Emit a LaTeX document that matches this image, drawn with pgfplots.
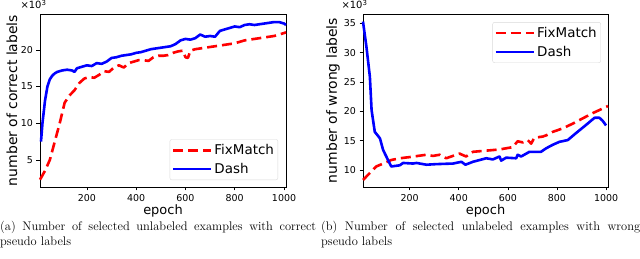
\documentclass[border=0pt]{standalone}
\usepackage{pgfplots}
\pgfplotsset{compat=1.18}
\usepackage{fontspec}
\newfontfamily\dejavu{DejaVu Sans}
\begin{document}
\begin{tikzpicture}
\useasboundingbox (0bp,0bp) rectangle (640bp,259bp);
\pgfplotsset{
  myax/.style={
    scale only axis, height=173bp, clip=false,
    xmin=10, xmax=1008,
    xtick={200,400,600,800,1000},
    tick align=outside, major tick length=3.5bp,
    xtick pos=bottom, ytick pos=left,
    tick style={black, line width=0.6pt},
    axis line style={line width=0.8pt},
    /pgf/number format/assume math mode=true,
    /pgf/number format/set thousands separator={},
    ticklabel style={font=\dejavu\fontsize{9.5}{10}\selectfont},
    xlabel=epoch,
    xlabel style={font=\dejavu\fontsize{13}{14}\selectfont, at={(axis description cs:0.5,-0.139)}, anchor=center},
    legend cell align=left,
    legend style={draw=black!15, rounded corners=2bp, font=\dejavu\fontsize{13.5}{15}\selectfont, inner xsep=2bp, inner ysep=3bp, row sep=3bp},
    legend image code/.code={\draw[##1] (0bp,0bp) -- (28bp,0bp); \path (0bp,0bp) -- (38bp,0bp);},
    every axis plot/.append style={line width=2.6bp, line join=round},
  },
  fm/.style={red, dash pattern=on 10bp off 5bp},
  ds/.style={blue},
}
\begin{axis}[myax, at={(40bp,72bp)}, anchor=south west, width=246bp,
  ymin=1.3, ymax=24.9, ytick={5,10,15,20},
  ylabel={number of correct labels},
  ylabel style={font=\dejavu\fontsize{14}{15}\selectfont, at={(axis description cs:-0.114,0.5)}, anchor=center},
  legend style={at={(axis description cs:0.968,0.04)}, anchor=south east}]
\addplot[fm] coordinates {(10,2.3) (30,3.5) (50,5) (70,7.5) (90,10) (110,12.8) (130,13.8) (150,14.5) (170,15.5) (190,16.1) (210,16.3) (230,16.2) (250,16.6) (270,17.1) (290,17.0) (310,17.6) (330,17.9) (350,17.6) (370,18.2) (390,18.4) (410,18.6) (430,18.6) (450,18.5) (470,19.0) (490,19.2) (510,19.2) (530,19.3) (550,19.6) (570,19.8) (590,19.9) (600,19.0) (610,18.9) (620,19.9) (640,20.1) (660,20.2) (680,20.3) (700,20.4) (720,20.5) (740,20.6) (760,20.7) (780,20.8) (800,20.9) (820,21.1) (840,21.3) (860,21.4) (880,21.5) (900,21.6) (920,21.7) (940,21.8) (960,21.9) (980,22.1) (1000,22.3) (1008,22.4)};
\addlegendentry{FixMatch}
\addplot[ds] coordinates {(14,7.5) (20,10) (30,13) (40,15) (50,16) (60,16.5) (70,16.8) (80,17) (100,17.2) (120,17.3) (140,17.2) (150,17.0) (160,17.5) (180,17.7) (200,17.9) (220,17.8) (240,18.2) (260,18.1) (280,18.4) (300,18.9) (320,19.0) (340,19.2) (360,19.3) (380,19.4) (400,19.6) (420,19.7) (440,19.9) (460,20.1) (480,20.2) (500,20.3) (520,20.4) (540,20.5) (560,20.8) (580,21.3) (600,21.5) (620,21.4) (640,21.6) (660,22.1) (680,21.8) (700,21.9) (720,21.8) (740,22.6) (760,22.8) (780,23.0) (800,23.2) (820,23.1) (840,23.4) (860,23.5) (880,23.4) (900,23.5) (920,23.6) (940,23.7) (960,23.8) (980,23.8) (1000,23.6) (1008,23.4)};
\addlegendentry{Dash}
\node[anchor=base, font=\dejavu\fontsize{10}{11}\selectfont, inner sep=0bp] at ([xshift=-6.5bp,yshift=5bp]rel axis cs:0,1) {×10\textsuperscript{3}};
\end{axis}
\begin{axis}[myax, at={(363bp,72bp)}, anchor=south west, width=245bp,
  ymin=7.1, ymax=36.6, ytick={10,15,20,25,30,35},
  ylabel={number of wrong labels},
  ylabel style={font=\dejavu\fontsize{14}{15}\selectfont, at={(axis description cs:-0.122,0.5)}, anchor=center},
  legend style={at={(axis description cs:0.971,0.953)}, anchor=north east}]
\addplot[fm] coordinates {(10,8.3) (64,10.6) (92,11.1) (125,11.7) (160,12.0) (200,12.2) (268,12.6) (295,12.4) (322,12.6) (349,12.0) (403,12.8) (430,12.3) (458,13.1) (512,13.3) (566,13.5) (620,13.9) (640,14.9) (661,14.7) (681,15.1) (695,14.5) (708,15.5) (742,15.7) (756,15.9) (783,16.5) (824,17.1) (864,17.9) (905,18.8) (946,19.7) (1008,20.9)};
\addlegendentry{FixMatch}
\addplot[ds] coordinates {(10,35.3) (24,31) (38,25.9) (45,20.2) (58,16.5) (79,15.4) (92,13.4) (119,11.1) (125,10.6) (160,10.8) (173,11.2) (214,11.1) (228,11.2) (268,10.9) (309,11.0) (377,11.1) (411,11.4) (427,10.9) (458,11.4) (512,12.0) (539,11.8) (566,12.3) (573,11.6) (593,12.1) (634,12.0) (640,12.6) (654,12.3) (688,13.1) (735,13.1) (756,13.7) (783,14.3) (810,14.8) (844,15.1) (878,16.3) (919,17.7) (953,18.9) (973,18.9) (986,18.4) (1000,17.6)};
\addlegendentry{Dash}
\node[anchor=base, font=\dejavu\fontsize{10}{11}\selectfont, inner sep=0bp] at ([xshift=-8.5bp,yshift=5bp]rel axis cs:0,1) {×10\textsuperscript{3}};
\end{axis}
\node[anchor=north west, inner sep=0pt, text width=316bp, align=justify, font=\fontsize{12.5}{15.5}\selectfont] at (0bp,38bp) {(a) Number of selected unlabeled examples with correct\linebreak pseudo labels};
\node[anchor=north west, inner sep=0pt, text width=319bp, align=justify, font=\fontsize{12.5}{15.5}\selectfont] at (321bp,38bp) {(b) Number of selected unlabeled examples with wrong\linebreak pseudo labels};
\end{tikzpicture}
\end{document}
